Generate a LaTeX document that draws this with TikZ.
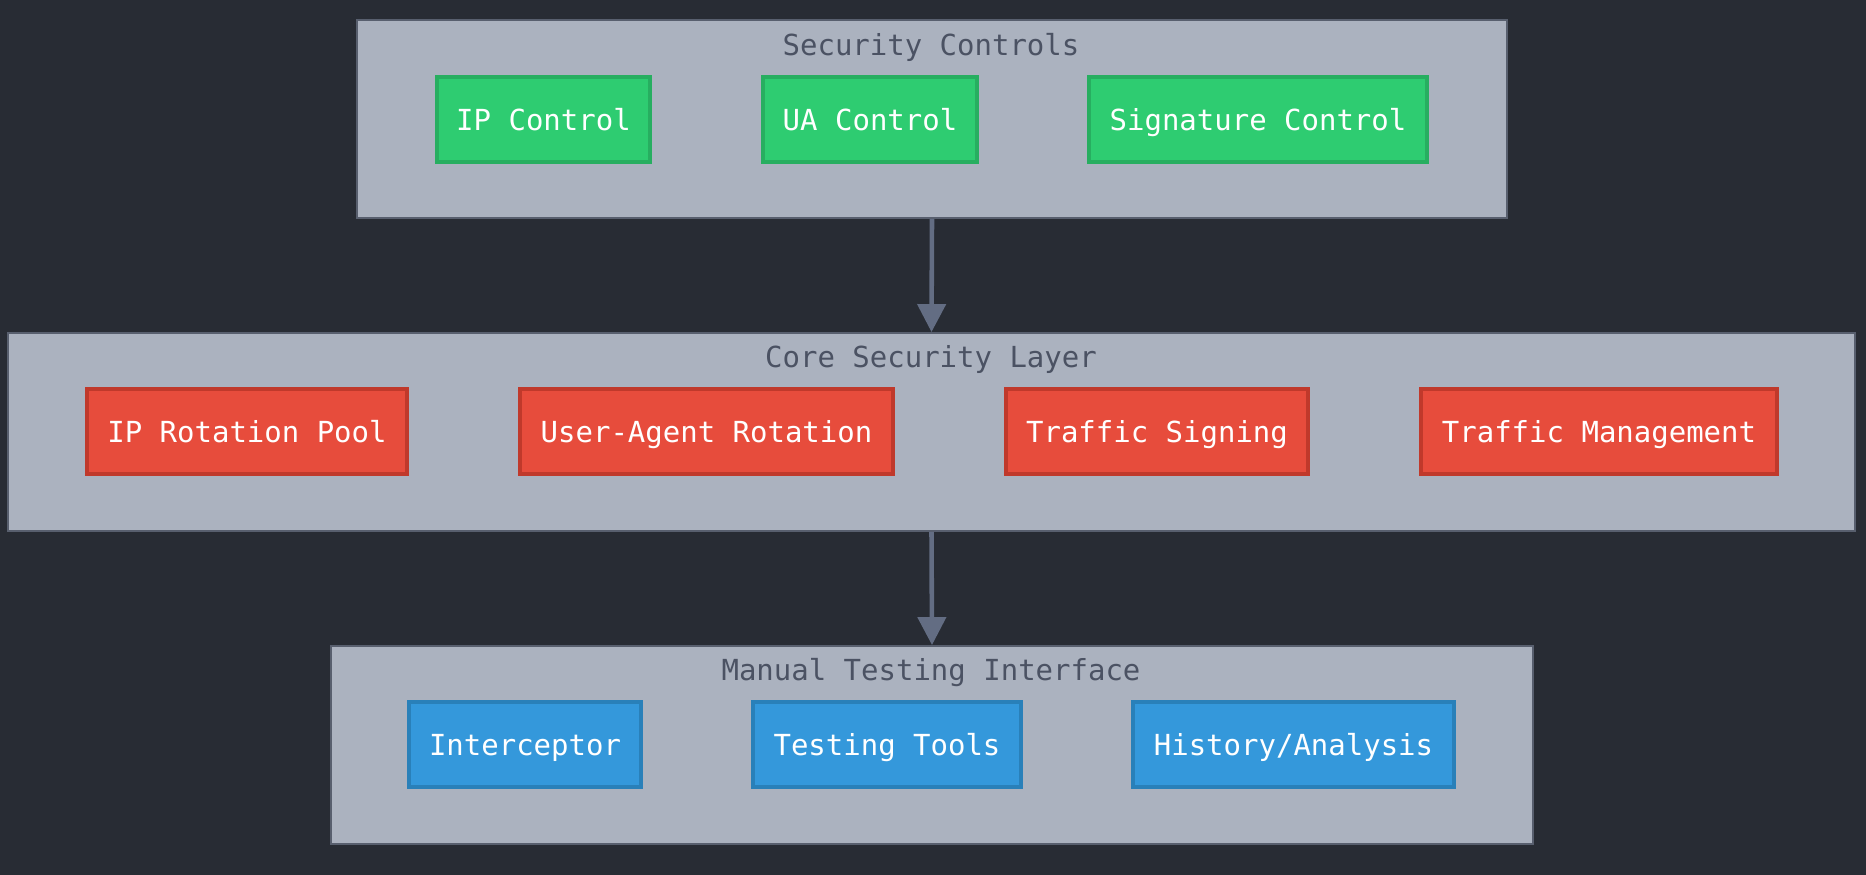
\documentclass[tikz,border=0pt]{standalone}
\usepackage{fontspec}
\setmonofont{DejaVu Sans Mono}
\definecolor{bgDark}{RGB}{40,44,52}
\definecolor{clusterFill}{RGB}{171,178,191}
\definecolor{clusterLine}{RGB}{88,95,110}
\definecolor{titleGray}{RGB}{75,82,99}
\definecolor{arrowSlate}{RGB}{99,109,131}
\definecolor{ctrlGreen}{RGB}{46,204,113}
\definecolor{ctrlGreenDark}{RGB}{39,174,96}
\definecolor{coreRed}{RGB}{231,76,60}
\definecolor{coreRedDark}{RGB}{192,57,43}
\definecolor{testBlue}{RGB}{52,152,219}
\definecolor{testBlueDark}{RGB}{41,128,185}
\usetikzlibrary{arrows.meta,positioning}

\tikzset{
  cluster/.style={draw=clusterLine, fill=clusterFill, line width=1.1pt, inner sep=0pt, minimum height=3.96cm},
  clustertitle/.style={text=titleGray, inner sep=0pt, text height=12pt, text depth=0pt},
  box/.style={line width=2.5pt, text=white, inner sep=0pt, minimum height=1.70cm, text height=12pt, text depth=0pt},
  greenbox/.style={box, fill=ctrlGreen, draw=ctrlGreenDark},
  redbox/.style={box, fill=coreRed, draw=coreRedDark},
  bluebox/.style={box, fill=testBlue, draw=testBlueDark},
  flow/.style={-{Triangle[length=0.56cm, width=0.56cm]}, arrowSlate, line width=2.6pt}
}

\begin{document}
\begin{tikzpicture}[x=0.02cm, y=-0.02cm, every node/.style={font=\ttfamily\fontsize{16.5}{20}\selectfont}]
  \useasboundingbox[fill=bgDark] (0,0) rectangle (1866,875);
  % Groups
  \node[cluster, minimum width=23.00cm] (sec) at (932,119) {};
  \node[cluster, minimum width=36.94cm] (core) at (931.5,432) {};
  \node[cluster, minimum width=24.04cm] (manual) at (932,745) {};
  \node[clustertitle] (secTitle) at (931,45) {Security Controls};
  \node[clustertitle] (coreTitle) at (931,357) {Core Security Layer};
  \node[clustertitle] (manualTitle) at (931,670) {Manual Testing Interface};
  % Controls
  \node[greenbox, minimum width=4.26cm] (ipCtrl) at (543.5,119.5) {IP Control};
  \node[greenbox, minimum width=4.28cm] (uaCtrl) at (870,119.5) {UA Control};
  \node[greenbox, minimum width=6.76cm] (sigCtrl) at (1258,119.5) {Signature Control};
  % Core layer
  \node[redbox, minimum width=6.40cm] (ipPool) at (247,431.5) {IP Rotation Pool};
  \node[redbox, minimum width=7.46cm] (uaRot) at (706.5,431.5) {User-Agent Rotation};
  \node[redbox, minimum width=6.04cm] (signing) at (1157,431.5) {Traffic Signing};
  \node[redbox, minimum width=7.12cm] (trafficMgmt) at (1599,431.5) {Traffic Management};
  % Manual testing
  \node[bluebox, minimum width=4.64cm] (interceptor) at (525,744.5) {Interceptor};
  \node[bluebox, minimum width=5.36cm] (tools) at (887,744.5) {Testing Tools};
  \node[bluebox, minimum width=6.42cm] (history) at (1293.5,744.5) {History/Analysis};
  % Links between groups
  \draw[flow] (sec.south) -- (core.north);
  \draw[flow] (core.south) -- (manual.north);
\end{tikzpicture}
\end{document}
